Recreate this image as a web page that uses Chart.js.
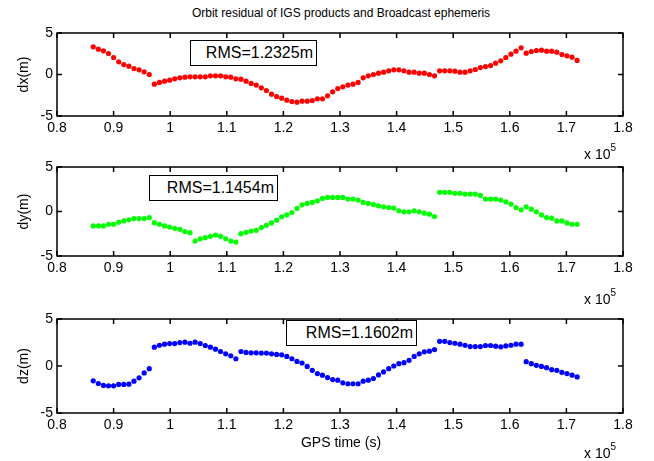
<!DOCTYPE html>
<html>
<head>
<meta charset="utf-8">
<script src="https://cdn.jsdelivr.net/npm/chart.js@4.4.0/dist/chart.umd.min.js"></script>
<style>
    body { margin: 0; background: #fff; }
    #wrap { position: relative; width: 654px; height: 461px; font-family: 'Liberation Sans', Arial, sans-serif; color: #000; }
    .panel { position: absolute; left: 0; width: 654px; }
    .rms {
        position: absolute; height: 26px; box-sizing: border-box;
        border: 1px solid #000; background: #fff;
        font-size: 16px; line-height: 24px; text-align: right; padding-right: 3px;
    }
    .exp { position: absolute; left: 584px; font-size: 14px; line-height: 16px; }
    .exp sup { font-size: 10px; position: relative; top: -2px; }
    #title { position: absolute; top: 6px; left: 0; width: 682px; text-align: center; font-size: 12px; }
    #xlabel { position: absolute; top: 434px; left: 0; width: 682px; text-align: center; font-size: 14px; line-height: 16px; }
</style>
</head>
<body>
<div id="wrap">
    <div id="title">Orbit residual of IGS products and Broadcast ephemeris</div>
    <div class="panel" style="top:0px;height:145px"><canvas id="chartX"></canvas></div>
    <div class="panel" style="top:145px;height:150px"><canvas id="chartY"></canvas></div>
    <div class="panel" style="top:295px;height:166px"><canvas id="chartZ"></canvas></div>
    <div id="xlabel">GPS time (s)</div>
    <div class="rms" style="left:190px;top:40px;width:127px">RMS=1.2325m</div>
    <div class="rms" style="left:149px;top:175px;width:129px">RMS=1.1454m</div>
    <div class="rms" style="left:286px;top:320px;width:131px">RMS=1.1602m</div>
    <div class="exp" style="top:142px">x 10<sup>5</sup></div>
    <div class="exp" style="top:287px">x 10<sup>5</sup></div>
    <div class="exp" style="top:441px">x 10<sup>5</sup></div>
</div>
<script>
// GPS time of each epoch (s), 15 min sampling
const gpsTime = [
    86400, 87300, 88200, 89100, 90000, 90900, 91800, 92700, 93600, 94500, 95400, 96300,
    97200, 98100, 99000, 99900, 100800, 101700, 102600, 103500, 104400, 105300, 106200, 107100,
    108000, 108900, 109800, 110700, 111600, 112500, 113400, 114300, 115200, 116100, 117000, 117900,
    118800, 119700, 120600, 121500, 122400, 123300, 124200, 125100, 126000, 126900, 127800, 128700,
    129600, 130500, 131400, 132300, 133200, 134100, 135000, 135900, 136800, 137700, 138600, 139500,
    140400, 141300, 142200, 143100, 144000, 144900, 145800, 146700, 147600, 148500, 149400, 150300,
    151200, 152100, 153000, 153900, 154800, 155700, 156600, 157500, 158400, 159300, 160200, 161100,
    162000, 162900, 163800, 164700, 165600, 166500, 167400, 168300, 169200, 170100, 171000, 171900
];

const dxValues = [
    3.33, 3.05, 2.85, 2.53, 2.05, 1.53, 1.2, 1.0, 0.72, 0.56, 0.32, 0.0,
    -1.16, -0.96, -0.8, -0.68, -0.52, -0.4, -0.32, -0.28, -0.28, -0.28, -0.28, -0.16,
    -0.16, -0.16, -0.28, -0.32, -0.52, -0.56, -0.8, -1.08, -1.28, -1.6, -1.93, -2.37,
    -2.65, -2.85, -3.09, -3.25, -3.33, -3.21, -3.21, -3.13, -2.93, -2.93, -2.57, -2.09,
    -1.69, -1.49, -1.28, -1.16, -0.96, -0.4, -0.16, 0.0, 0.16, 0.28, 0.44, 0.56,
    0.56, 0.44, 0.28, 0.28, 0.16, 0.16, 0.0, -0.16, 0.44, 0.44, 0.44, 0.4,
    0.28, 0.28, 0.44, 0.6, 0.84, 0.96, 1.08, 1.37, 1.65, 2.05, 2.45, 2.81,
    3.21, 2.57, 2.77, 2.89, 2.93, 2.81, 2.81, 2.69, 2.41, 2.25, 2.09, 1.69
];

const dyValues = [
    -1.62, -1.62, -1.62, -1.43, -1.43, -1.21, -1.06, -0.94, -0.79, -0.79, -0.79, -0.68,
    -1.25, -1.43, -1.62, -1.74, -1.89, -2.0, -2.26, -2.38, -3.32, -3.06, -2.94, -2.79,
    -2.64, -2.79, -3.06, -3.32, -3.43, -2.49, -2.34, -2.19, -2.11, -1.81, -1.55, -1.28,
    -0.98, -0.6, -0.38, -0.11, 0.34, 0.75, 0.91, 1.02, 1.21, 1.47, 1.58, 1.58,
    1.58, 1.58, 1.4, 1.4, 1.28, 1.02, 0.91, 0.79, 0.64, 0.53, 0.45, 0.38,
    0.08, -0.04, -0.04, 0.08, -0.04, -0.19, -0.3, -0.57, 2.15, 2.15, 2.15, 2.04,
    2.04, 1.96, 1.96, 1.96, 1.81, 1.4, 1.4, 1.4, 1.28, 1.09, 0.83, 0.45,
    0.19, 0.53, 0.26, -0.04, -0.38, -0.68, -0.75, -1.06, -1.06, -1.28, -1.43, -1.43
];

const dzValues = [
    -1.58, -1.86, -2.07, -2.11, -2.11, -1.96, -1.96, -1.93, -1.61, -1.26, -0.74, -0.28,
    2.0, 2.21, 2.32, 2.39, 2.39, 2.49, 2.53, 2.42, 2.53, 2.39, 2.18, 2.0,
    1.79, 1.54, 1.3, 1.09, 0.77, 1.54, 1.44, 1.4, 1.4, 1.37, 1.37, 1.3,
    1.23, 1.19, 1.02, 0.77, 0.49, 0.32, -0.04, -0.46, -0.81, -0.98, -1.23, -1.44,
    -1.51, -1.79, -1.89, -1.89, -1.89, -1.61, -1.51, -1.33, -0.95, -0.63, -0.28, 0.0,
    0.25, 0.35, 0.6, 1.02, 1.3, 1.51, 1.58, 1.75, 2.63, 2.63, 2.49, 2.42,
    2.32, 2.21, 2.07, 2.07, 2.07, 2.18, 2.18, 2.11, 2.04, 2.14, 2.21, 2.32,
    2.32, 0.46, 0.25, 0.07, -0.04, -0.18, -0.39, -0.46, -0.67, -0.81, -0.98, -1.16
];

const X_MIN = 80000;
const X_MAX = 180000;
const X_STEP = 10000;
const Y_TICKS = [-5, 0, 5];

Chart.defaults.font.family = "'Liberation Sans', Arial, sans-serif";
Chart.defaults.color = '#000';

// Matlab style box with inward ticks on all four sides
const boxTicks = {
    id: 'boxTicks',
    afterDraw(chart) {
        const { ctx, chartArea: a, scales: { x, y } } = chart;
        const len = 5;
        ctx.save();
        ctx.strokeStyle = '#000';
        ctx.lineWidth = 1.5;
        ctx.strokeRect(a.left, a.top, a.right - a.left, a.bottom - a.top);
        ctx.beginPath();
        x.ticks.forEach(t => {
            const px = x.getPixelForValue(t.value);
            ctx.moveTo(px, a.bottom); ctx.lineTo(px, a.bottom - len);
            ctx.moveTo(px, a.top); ctx.lineTo(px, a.top + len);
        });
        y.ticks.forEach(t => {
            const py = y.getPixelForValue(t.value);
            ctx.moveTo(a.left, py); ctx.lineTo(a.left + len, py);
            ctx.moveTo(a.right, py); ctx.lineTo(a.right - len, py);
        });
        ctx.stroke();
        ctx.restore();
    }
};

function makeChart(canvasId, values, color, yLabel, padTop, xHeight) {
    const points = gpsTime.map((t, i) => ({ x: t, y: values[i] }));
    return new Chart(document.getElementById(canvasId), {
        type: 'scatter',
        data: {
            datasets: [{
                data: points,
                backgroundColor: color,
                borderColor: color,
                borderWidth: 0,
                pointRadius: 2.6,
                pointHoverRadius: 2.6
            }]
        },
        options: {
            responsive: true,
            maintainAspectRatio: false,
            animation: false,
            events: [],
            layout: { padding: { top: padTop, right: 31, left: 0, bottom: 0 } },
            plugins: { legend: { display: false }, tooltip: { enabled: false } },
            scales: {
                x: {
                    type: 'linear',
                    min: X_MIN,
                    max: X_MAX,
                    grid: { display: false, drawTicks: false },
                    border: { display: false },
                    afterFit: s => { s.height = xHeight; },
                    afterBuildTicks: s => {
                        s.ticks = [];
                        for (let v = X_MIN; v <= X_MAX; v += X_STEP) s.ticks.push({ value: v });
                    },
                    ticks: {
                        autoSkip: false,
                        maxRotation: 0,
                        padding: 4,
                        font: { size: 14 },
                        callback: v => String(Math.round(v / 1e4) / 10)
                    }
                },
                y: {
                    min: -5,
                    max: 5,
                    grid: { display: false, drawTicks: false },
                    border: { display: false },
                    afterFit: s => { s.width = 57; },
                    afterBuildTicks: s => { s.ticks = Y_TICKS.map(v => ({ value: v })); },
                    ticks: { padding: 4, font: { size: 14 } },
                    title: {
                        display: true,
                        text: yLabel,
                        font: { size: 14 },
                        padding: { top: 16, bottom: 0 }
                    }
                }
            }
        },
        plugins: [boxTicks]
    });
}

makeChart('chartX', dxValues, '#ff0000', 'dx(m)', 33, 29);
makeChart('chartY', dyValues, '#00ff00', 'dy(m)', 22, 39);
makeChart('chartZ', dzValues, '#0000ff', 'dz(m)', 24, 48);
</script>
</body>
</html>
